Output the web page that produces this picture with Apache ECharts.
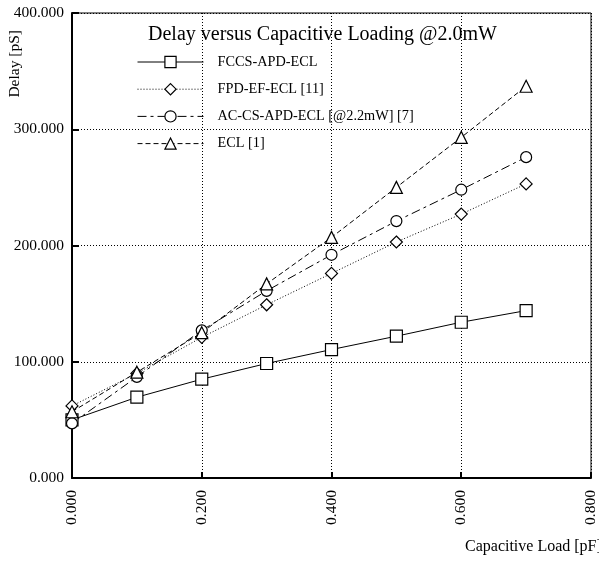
<!DOCTYPE html>
<html>
<head>
<meta charset="utf-8">
<script src="https://cdn.jsdelivr.net/npm/echarts@6/dist/echarts.min.js"></script>
<style>
  html, body { margin: 0; padding: 0; background: #fff; }
  #chart { width: 599px; height: 563px; }
</style>
</head>
<body>
<div id="chart"></div>
<script>
// capacitive load [pF]
var loads = [0, 0.1, 0.2, 0.3, 0.4, 0.5, 0.6, 0.7];
// delay [pS] per circuit
var fccsApdEcl = [50, 69.5, 85, 98.5, 110.5, 122, 134, 144];
var fpdEfEcl = [62, 90, 121, 149, 176, 203, 227, 253];
var acCsApdEcl = [47, 87, 127, 161, 192, 221, 248, 276];
var eclRef = [57, 91, 125, 167, 207, 250, 293, 337];
var seriesNames = ['FCCS-APD-ECL', 'FPD-EF-ECL [11]', 'AC-CS-APD-ECL [@2.2mW] [7]', 'ECL [1]'];

var serif = '"Liberation Serif", "DejaVu Serif", serif';

function pairs(vals) {
    return loads.map(function (x, i) { return [x, vals[i]]; });
}

function makeSeries(name, vals, symbol, size, dash) {
    return {
        name: name,
        type: 'line',
        data: pairs(vals),
        symbol: symbol,
        symbolSize: size,
        showAllSymbol: true,
        itemStyle: { color: '#fff', borderColor: '#000', borderWidth: 1.2 },
        lineStyle: { color: '#000', width: 1, type: dash },
        emphasis: { disabled: true },
        animation: false
    };
}

var myChart = echarts.init(document.getElementById('chart'));
var option = {
    backgroundColor: '#fff',
    title: {
        text: 'Delay versus Capacitive Loading @2.0mW',
        left: 143,
        top: 20,
        textStyle: { fontFamily: serif, fontWeight: 'normal', fontSize: 20, color: '#000' }
    },
    legend: {
        orient: 'vertical',
        left: 132,
        top: 50,
        itemWidth: 66,
        itemHeight: 14,
        itemGap: 13.2,
        itemStyle: { color: '#fff', borderColor: '#000', borderWidth: 1.2 },
        lineStyle: { color: '#000', width: 1 },
        textStyle: { fontFamily: serif, fontSize: 14.3, color: '#000', padding: [0, 0, 0, 9] },
        data: seriesNames
    },
    grid: {
        left: 72,
        right: 6,
        top: 13,
        bottom: 85,
        show: true,
        borderColor: '#000',
        borderWidth: 1
    },
    xAxis: {
        type: 'value',
        min: 0,
        max: 0.8,
        interval: 0.2,
        axisLine: { lineStyle: { color: '#000', width: 2 } },
        axisTick: { inside: true, length: 6, lineStyle: { color: '#000', width: 2 } },
        axisLabel: {
            rotate: 90,
            margin: 12,
            fontFamily: serif,
            fontSize: 15.5,
            color: '#000',
            formatter: function (v) { return v.toFixed(3); }
        },
        splitLine: { show: true, lineStyle: { color: '#000', width: 1, type: [1, 2] } }
    },
    yAxis: {
        type: 'value',
        min: 0,
        max: 400,
        interval: 100,
        axisLine: { show: true, lineStyle: { color: '#000', width: 2 } },
        axisTick: { show: true, inside: true, length: 7, lineStyle: { color: '#000', width: 2 } },
        axisLabel: {
            margin: 8,
            fontFamily: serif,
            fontSize: 15.5,
            color: '#000',
            formatter: function (v) { return v.toFixed(3); }
        },
        splitLine: { show: true, lineStyle: { color: '#000', width: 1, type: [1, 2] } }
    },
    graphic: [
        {
            type: 'text',
            left: 7,
            top: 30,
            rotation: Math.PI / 2,
            style: { text: 'Delay [pS]', font: '15.5px ' + serif, fill: '#000' }
        },
        {
            type: 'text',
            left: 465,
            top: 539,
            style: { text: 'Capacitive Load [pF]', font: '16px ' + serif, fill: '#000' }
        }
    ],
    series: [
        makeSeries(seriesNames[0], fccsApdEcl, 'rect', 12, 'solid'),
        makeSeries(seriesNames[1], fpdEfEcl, 'diamond', 12, [1, 2]),
        makeSeries(seriesNames[2], acCsApdEcl, 'circle', 11, [9, 4, 3, 4]),
        makeSeries(seriesNames[3], eclRef, 'triangle', 12, [5, 3])
    ]
};
myChart.setOption(option);
</script>
</body>
</html>
